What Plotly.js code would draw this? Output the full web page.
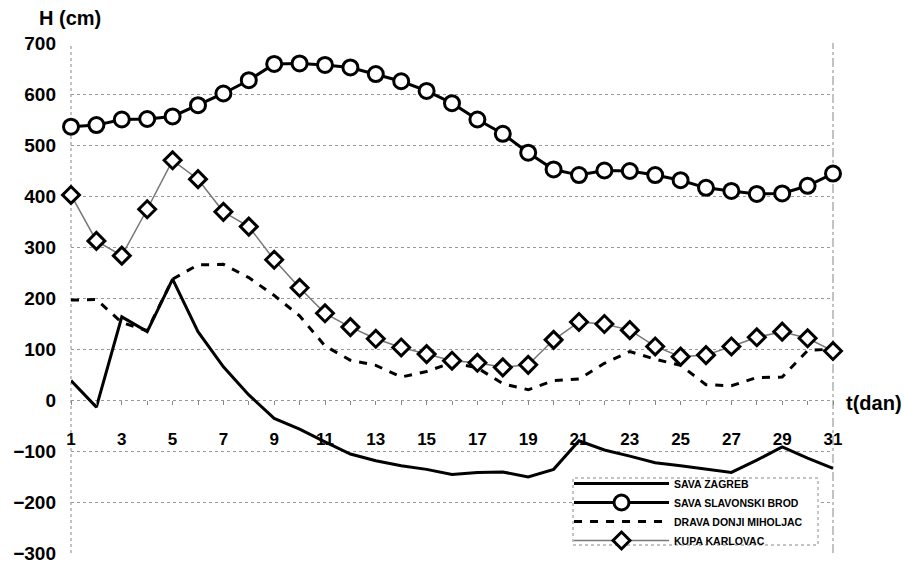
<!DOCTYPE html>
<html>
<head>
<meta charset="utf-8">
<script src="https://cdn.plot.ly/plotly-3.0.1.min.js"></script>
<style>
  html, body { margin: 0; padding: 0; background: #fff; }
  #chart { width: 904px; height: 565px; }
</style>
</head>
<body>
<div id="chart"></div>
<script>
// Daily water levels H (cm), days 1..31
const days = Array.from({length: 31}, (_, i) => i + 1);
const dayTicks = [1, 3, 5, 7, 9, 11, 13, 15, 17, 19, 21, 23, 25, 27, 29, 31];
const levelTicks = [-300, -200, -100, 0, 100, 200, 300, 400, 500, 600, 700];

const seriesNames = ["SAVA ZAGREB", "SAVA SLAVONSKI BROD", "DRAVA DONJI MIHOLJAC", "KUPA KARLOVAC"];

const savaZagreb = [38, -14, 163, 134, 237, 134, 65, 10, -36, -57, -82, -106, -119, -129, -136, -146, -142, -141, -151, -136,
                    -80, -98, -110, -123, -129, -135, -142, -118, -92, -114, -134];
const savaSlavonskiBrod = [536, 539, 550, 551, 556, 578, 601, 627, 659, 660, 657, 652, 639, 625, 606, 582, 550, 522, 485, 452,
                           441, 450, 449, 441, 431, 416, 410, 404, 405, 420, 444];
const dravaDonjiMiholjac = [196, 197, 152, 136, 237, 265, 266, 240, 205, 165, 106, 78, 68, 45, 56, 73, 63, 32, 20, 38,
                            41, 72, 95, 80, 68, 30, 28, 44, 45, 97, 100];
const kupaKarlovac = [402, 312, 283, 374, 470, 433, 369, 340, 275, 220, 170, 143, 120, 103, 90, 77, 73, 64, 69, 118,
                      153, 149, 137, 105, 85, 88, 105, 123, 134, 121, 96];

const FONT = "Liberation Sans, Arial, sans-serif";

const traces = [
  {
    name: seriesNames[0], x: days, y: savaZagreb, type: "scatter", mode: "lines",
    line: {color: "#000", width: 3}, legendrank: 1, cliponaxis: false
  },
  {
    name: seriesNames[2], x: days, y: dravaDonjiMiholjac, type: "scatter", mode: "lines",
    line: {color: "#000", width: 3, dash: "8px,8px"}, legendrank: 3, cliponaxis: false
  },
  {
    name: seriesNames[3], x: days, y: kupaKarlovac, type: "scatter", mode: "lines+markers",
    line: {color: "#777", width: 1.5},
    marker: {symbol: "diamond", size: 13, color: "#fff", line: {color: "#000", width: 3}},
    legendrank: 4, cliponaxis: false
  },
  {
    name: seriesNames[1], x: days, y: savaSlavonskiBrod, type: "scatter", mode: "lines+markers",
    line: {color: "#000", width: 3},
    marker: {symbol: "circle", size: 15, color: "#fff", line: {color: "#000", width: 3}},
    legendrank: 2, cliponaxis: false
  }
];

// plot area: 71..833 px horizontally, 43..553 px vertically
const L = 71, R = 833, T = 43, B = 553, W = 904, H = 565;
const px = v => (v - L) / (R - L);
const py = v => (B - v) / (B - T);

const layout = {
  width: W, height: H,
  margin: {l: L, r: W - R, t: T, b: H - B, autoexpand: false},
  paper_bgcolor: "#fff", plot_bgcolor: "#fff",
  font: {family: FONT, color: "#000"},
  showlegend: true,
  legend: {
    xref: "container", yref: "container",
    x: 569 / W, y: 1 - 469 / H, xanchor: "left", yanchor: "top",
    bgcolor: "rgba(255,255,255,0)", borderwidth: 0,
    font: {family: FONT, size: 10.5, color: "#000", weight: "bold"},
    itemwidth: 95, tracegroupgap: 0, traceorder: "normal"
  },
  xaxis: {
    range: [1, 31], anchor: "free", position: 0.3,
    tickvals: dayTicks, ticktext: dayTicks.map(String),
    tickfont: {family: FONT, size: 17, weight: "bold"},
    ticks: "outside", ticklen: 4, tickcolor: "#888", tickwidth: 1,
    minor: {dtick: 1, ticks: "outside", ticklen: 4, tickcolor: "#888"},
    ticklabelstandoff: 20, automargin: false,
    showgrid: false, zeroline: false, showline: false, fixedrange: true
  },
  yaxis: {
    range: [-300, 700], tickvals: levelTicks,
    tickfont: {family: FONT, size: 19, weight: "bold"},
    ticks: "", ticklabelstandoff: 14, automargin: false,
    showgrid: true, gridcolor: "#999", griddash: "dot", gridwidth: 1,
    zeroline: false, showline: false, fixedrange: true
  },
  shapes: [
    {type: "line", xref: "paper", yref: "paper", x0: 0, x1: 0, y0: 0, y1: 1,
     line: {color: "#888", width: 1, dash: "dot"}, layer: "below"},
    {type: "line", xref: "paper", yref: "paper", x0: 1, x1: 1, y0: 0, y1: 1,
     line: {color: "#888", width: 1, dash: "dashdot"}, layer: "below"},
    {type: "rect", xref: "paper", yref: "paper",
     x0: px(573), x1: px(818), y0: py(545), y1: py(478),
     line: {color: "#888", width: 1, dash: "dot"}, fillcolor: "#fff", layer: "above"}
  ],
  annotations: [
    {text: "H (cm)", xref: "paper", yref: "paper", x: px(37), y: py(18),
     xanchor: "left", yanchor: "middle", showarrow: false,
     font: {family: FONT, size: 20, weight: "bold"}},
    {text: "t(dan)", xref: "paper", yref: "paper", x: px(844), y: py(403),
     xanchor: "left", yanchor: "middle", showarrow: false,
     font: {family: FONT, size: 20, weight: "bold"}}
  ]
};

Plotly.newPlot("chart", traces, layout, {displayModeBar: false, staticPlot: true});
</script>
</body>
</html>
